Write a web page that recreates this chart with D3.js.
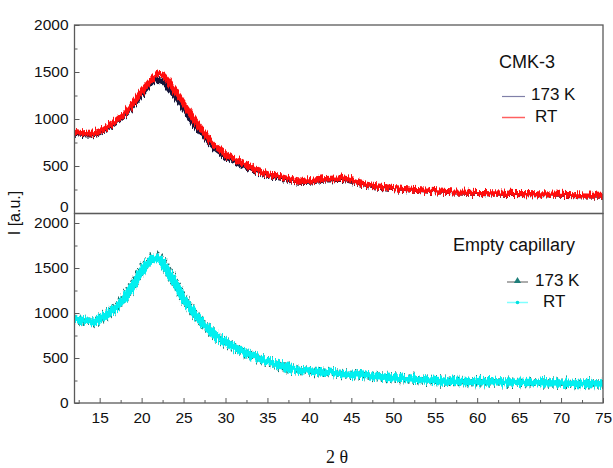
<!DOCTYPE html>
<html>
<head>
<meta charset="utf-8">
<script src="https://cdn.jsdelivr.net/npm/d3@7"></script>
<style>
  body { margin: 0; background: #fff; }
  svg { display: block; font-family: "Liberation Sans", Arial, sans-serif; }
</style>
</head>
<body>
<div id="chart"></div>
<script>
// 2 theta positions
const twoTheta = [12,13,14,15,16,17,18,19,20,21,21.5,22,22.5,23,24,25,26,27,28,29,30,31,32,33,34,35,36,37,38,39,40,41,42,43,44,45,46,47,48,50,52,54,56,58,60,62,64,66,68,70,72,75];

// CMK-3 panel
const cmkRT  = [865,850,845,870,925,985,1060,1170,1290,1400,1450,1475,1470,1420,1300,1170,1030,910,790,695,630,575,530,490,445,415,395,375,350,335,340,352,362,368,368,350,320,300,285,268,252,240,228,218,215,210,205,202,200,195,190,184];
const cmk173 = [850,835,830,855,905,965,1040,1145,1255,1360,1400,1410,1395,1350,1235,1110,975,860,750,660,600,550,505,470,428,400,380,360,338,325,328,340,350,355,355,338,310,290,276,260,245,233,222,212,208,203,198,195,193,188,183,177];

// empty capillary panel
const capRT  = [935,915,905,935,990,1065,1170,1310,1465,1590,1620,1600,1560,1480,1330,1165,1030,915,820,740,680,620,575,540,500,465,435,405,380,362,355,350,342,335,328,320,312,303,295,280,268,255,245,240,238,235,232,228,225,222,218,212];
const cap173 = [930,912,900,932,992,1070,1178,1320,1478,1605,1640,1618,1575,1490,1335,1168,1030,912,815,735,675,616,570,535,496,460,430,402,376,360,352,348,340,333,326,318,309,300,292,278,265,252,243,238,236,233,230,226,223,220,216,210];

const yTicks = [0,500,1000,1500,2000];
const xTicks = [15,20,25,30,35,40,45,50,55,60,65,70,75];

const W = 613, H = 468;
const left = 74.5, right = 603;
const frameCol = "#5a5a5a";

const svg = d3.select("#chart").append("svg")
  .attr("width", W).attr("height", H);

const x = d3.scaleLinear().domain([12, 75]).range([left, right]);

const panels = [
  { top: 25, bottom: 213.5, y0: 213, y2000: 25, zeroShift: -6, series: [
      { name: "173 K", vals: cmk173, color: "#15153a", width: 5 },
      { name: "RT", vals: cmkRT, color: "#ff1010", width: 5.8 }
    ] },
  { top: 213.5, bottom: 403, y0: 403, y2000: 223, zeroShift: 0, series: [
      { name: "173 K", vals: cap173, color: "#1f6f6a", width: 9.5, dash: "1.5,3" },
      { name: "RT", vals: capRT, color: "#00f0f0", width: 7.5 }
    ] }
];

const defs = svg.append("defs");

// roughen the thick lines so they read as noisy detector traces (style only)
const rough = defs.append("filter").attr("id", "rough")
  .attr("x", "-5%").attr("y", "-20%").attr("width", "110%").attr("height", "140%");
rough.append("feTurbulence")
  .attr("type", "fractalNoise").attr("baseFrequency", "0.9 0.06")
  .attr("numOctaves", 2).attr("seed", 3).attr("result", "n");
rough.append("feColorMatrix").attr("in", "n").attr("type", "matrix")
  .attr("values", "0 0 0 0 0.5  0 1 0 0 0  0 0 0 0 0  0 0 0 0 1")
  .attr("result", "nm");
rough.append("feDisplacementMap").attr("in", "SourceGraphic").attr("in2", "nm")
  .attr("scale", 10).attr("xChannelSelector", "R").attr("yChannelSelector", "G");

panels.forEach((p, i) => {
  const y = d3.scaleLinear().domain([0, 2000]).range([p.y0, p.y2000]);

  defs.append("clipPath").attr("id", "clip" + i)
    .append("rect")
    .attr("x", left).attr("y", p.top)
    .attr("width", right - left).attr("height", p.bottom - p.top);

  const line = d3.line()
    .x((d, k) => x(twoTheta[k]))
    .y(d => y(d))
    .curve(d3.curveCatmullRom);

  const g = svg.append("g").attr("clip-path", "url(#clip" + i + ")")
    .append("g").attr("filter", "url(#rough)");
  p.series.forEach(s => {
    g.append("path")
      .datum(s.vals)
      .attr("d", line)
      .attr("fill", "none")
      .attr("stroke", s.color)
      .attr("stroke-width", s.width)
      .attr("stroke-linejoin", "round")
      .attr("stroke-dasharray", s.dash || null);
  });

  // minor y ticks
  svg.append("g")
    .attr("transform", `translate(${left},0)`)
    .call(d3.axisLeft(y).tickValues([250,750,1250,1750]).tickSize(-3).tickFormat(""))
    .call(a => a.select(".domain").remove())
    .call(a => a.selectAll("line").attr("stroke", frameCol));

  // major y ticks
  svg.append("g")
    .attr("transform", `translate(${left},0)`)
    .call(d3.axisLeft(y).tickValues(yTicks).tickSize(-5).tickPadding(6).tickFormat(d3.format("d")))
    .call(a => a.select(".domain").remove())
    .call(a => a.selectAll("line").attr("stroke", frameCol))
    .call(a => a.selectAll("text")
      .attr("font-size", 15.5)
      .attr("fill", "#111")
      .attr("font-family", "Liberation Sans, Arial, sans-serif")
      .attr("dy", d => d === 0 ? (0.32 * 15.5 + p.zeroShift) + "px" : "0.32em"));

  // frame
  svg.append("rect")
    .attr("x", left).attr("y", p.top)
    .attr("width", right - left).attr("height", p.bottom - p.top)
    .attr("fill", "none")
    .attr("stroke", frameCol)
    .attr("stroke-width", 1.3);
});

// x axis at the bottom of the lower panel
const xMinor = [12.5,17.5,22.5,27.5,32.5,37.5,42.5,47.5,52.5,57.5,62.5,67.5,72.5];
svg.append("g")
  .attr("transform", "translate(0,403)")
  .call(d3.axisBottom(x).tickValues(xMinor).tickSize(-3).tickFormat(""))
  .call(a => a.select(".domain").remove())
  .call(a => a.selectAll("line").attr("stroke", frameCol));
svg.append("g")
  .attr("transform", "translate(0,403)")
  .call(d3.axisBottom(x).tickValues(xTicks).tickSize(-5).tickPadding(9).tickFormat(d3.format("d")))
  .call(a => a.select(".domain").remove())
  .call(a => a.selectAll("line").attr("stroke", frameCol))
  .call(a => a.selectAll("text")
    .attr("font-size", 15.5)
    .attr("fill", "#111")
    .attr("font-family", "Liberation Sans, Arial, sans-serif"));

// axis labels
svg.append("text")
  .attr("transform", "translate(20,213) rotate(-90)")
  .attr("text-anchor", "middle")
  .attr("font-size", 16)
  .attr("fill", "#111")
  .text("I [a.u.]");

svg.append("text")
  .attr("x", 337).attr("y", 463)
  .attr("text-anchor", "middle")
  .attr("font-family", "Liberation Serif, serif")
  .attr("font-size", 18)
  .attr("fill", "#111")
  .text("2 θ");

// legends
svg.append("text").attr("x", 499).attr("y", 68)
  .attr("font-size", 18).attr("fill", "#111").text("CMK-3");
svg.append("line").attr("x1", 502).attr("x2", 525).attr("y1", 96.5).attr("y2", 96.5)
  .attr("stroke", "#8080a8").attr("stroke-width", 1.2);
svg.append("text").attr("x", 531).attr("y", 100)
  .attr("font-size", 17).attr("fill", "#111").text("173 K");
svg.append("line").attr("x1", 502).attr("x2", 525).attr("y1", 117.5).attr("y2", 117.5)
  .attr("stroke", "#ff6060").attr("stroke-width", 1.5);
svg.append("text").attr("x", 535).attr("y", 122)
  .attr("font-size", 17).attr("fill", "#111").text("RT");

svg.append("text").attr("x", 453).attr("y", 251)
  .attr("font-size", 18).attr("fill", "#111").text("Empty capillary");
svg.append("line").attr("x1", 507).attr("x2", 528).attr("y1", 282).attr("y2", 282)
  .attr("stroke", "#909090").attr("stroke-width", 1.5);
svg.append("path").attr("d", d3.symbol(d3.symbolTriangle, 22)())
  .attr("transform", "translate(517.5,281)")
  .attr("fill", "#1f7f7a");
svg.append("text").attr("x", 535).attr("y", 286)
  .attr("font-size", 17).attr("fill", "#111").text("173 K");
svg.append("line").attr("x1", 507).attr("x2", 528).attr("y1", 302.5).attr("y2", 302.5)
  .attr("stroke", "#80ffff").attr("stroke-width", 1.5);
svg.append("circle").attr("cx", 517.5).attr("cy", 302.5).attr("r", 1.8)
  .attr("fill", "#00e0e0");
svg.append("text").attr("x", 543).attr("y", 307)
  .attr("font-size", 17).attr("fill", "#111").text("RT");
</script>
</body>
</html>
